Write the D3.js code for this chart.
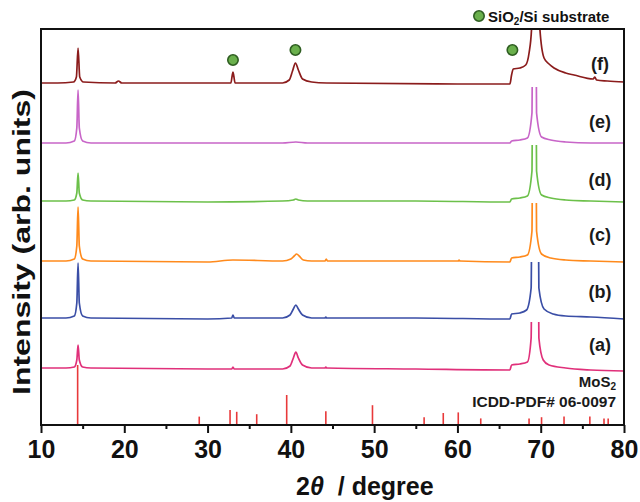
<!DOCTYPE html>
<html><head><meta charset="utf-8">
<script src="https://cdn.jsdelivr.net/npm/d3@7"></script>
<style>
html,body{margin:0;padding:0;background:#fff;}
svg{display:block;font-family:"Liberation Sans",Arial,sans-serif;font-weight:bold;}
</style></head>
<body><svg id="c" width="640" height="502"></svg>
<script>
// ---------------- DATA ----------------
const sampleLabels = ["(a)", "(b)", "(c)", "(d)", "(e)", "(f)"];
const sampleColors = ["#e0307a", "#3a4ea6", "#ff8a1c", "#6cc04a", "#c865c8", "#8b1c1c"];
// vertical offsets of each pattern (arb. units)
const sampleOffsets = [57, 107, 164, 224, 282, 342];
// truncation ceiling of the Si(400) peak for each pattern (arb. units, above offset)
const sampleCeilings = [46, 56, 58, 56, 56, 400];

// [2theta, intensity above offset]
const patternA = [[10,0],[13,0],[14.0,1],[14.3,8],[14.45,23],[14.6,8],[15,1],[16,0],[30,-1],[32.9,-1],[33.05,1],[33.2,-1],[39,-1],[39.9,2],[40.3,10],[40.6,16],[40.9,10],[41.4,3],[42.5,0],[44.1,0],[44.2,1],[44.3,0],[55,-1],[66.3,-2],[66.5,3],[67.5,4],[68.4,6],[68.85,30],[68.98,160],[69.65,160],[69.78,30],[70.3,8],[71,3],[73,0],[76,-2],[80,-3]];
const patternB = [[10,0],[13,0],[14.0,2],[14.3,15],[14.45,55],[14.6,15],[15,2],[16,0],[30,-1],[32.9,0],[33.05,3],[33.2,0],[39,0],[39.9,3],[40.3,9],[40.6,13],[40.9,9],[41.4,3],[42.5,0],[44.1,0],[44.2,1],[44.3,0],[55,0],[66.3,-1],[66.5,4],[67.5,5],[68.3,8],[68.85,30],[68.98,160],[69.65,160],[69.78,30],[70.4,9],[71.5,4],[73,2],[76,1],[80,-1]];
const patternC = [[10,0],[13,0],[14.0,2],[14.3,15],[14.45,54],[14.6,15],[15,2],[16,0],[30,-1],[33.05,1],[39,0],[40.0,2],[40.4,5],[40.7,7],[41.0,5],[41.5,1],[42.5,0],[44.1,0],[44.25,2],[44.4,0],[55,0],[60.1,0],[60.2,1],[60.3,0],[66.3,-1],[66.5,3],[67.5,4],[68.4,6],[68.95,30],[69.05,160],[69.4,160],[69.5,30],[70.1,7],[71.2,3],[73,1],[76,0],[80,-1]];
const patternD = [[10,0],[13,0],[14.0,1],[14.3,8],[14.45,28],[14.6,8],[15,1],[16,0],[30,-1],[39,0],[40.3,1],[40.6,2],[40.9,1],[42,0],[55,0],[66.3,-1],[66.5,2],[67.5,3],[68.4,5],[68.95,30],[69.05,160],[69.4,160],[69.5,30],[70.1,6],[71.2,3],[73,1],[76,0],[80,-1]];
const patternE = [[10,0],[13,0],[14.0,2],[14.3,15],[14.45,53],[14.6,15],[15,2],[16,0],[30,0],[39,0],[40.6,1],[42,0],[55,0],[66.3,0],[66.5,2],[67.5,3],[68.4,5],[68.95,30],[69.05,160],[69.4,160],[69.5,30],[70.1,6],[71.2,3],[73,1],[76,0],[80,0]];
const patternF = [[10,0],[12,0],[13.9,1],[14.25,6],[14.45,35],[14.65,6],[15.1,1],[18.9,0],[19.3,2],[19.7,0],[25,0],[32.8,0],[32.95,7],[33.05,11],[33.15,7],[33.3,0],[39,0],[39.8,3],[40.2,12],[40.55,20],[40.9,13],[41.4,4],[42.5,1],[44.3,0],[60,-1],[66.3,-1],[66.5,8],[66.7,14],[67.5,15],[68.2,18],[68.6,30],[68.9,54],[69.1,200],[69.7,200],[69.9,54],[70.4,25],[71.0,19],[71.6,15],[73,10],[74,8],[76.3,4],[76.5,6],[76.7,3],[78,2],[80,1]];
const patterns = [patternA, patternB, patternC, patternD, patternE, patternF];

// MoS2 reference (ICDD-PDF# 06-0097): positions and relative intensities
const refPositions   = [14.4, 29.0, 32.7, 33.5, 35.9, 39.5, 44.2, 49.8, 56.0, 58.3, 60.1, 62.8, 68.6, 70.1, 72.8, 75.9, 77.6, 78.1];
const refIntensities = [100, 14, 25, 22, 18, 50, 23, 33, 13, 20, 21, 11, 11, 13, 14, 14, 11, 11];

// SiO2/Si substrate markers: [2theta, intensity]
const substrateMarkers = [[33.05, 365], [40.55, 375], [66.6, 375]];

const xTicks = [10, 20, 30, 40, 50, 60, 70, 80];
const xMinorTicks = [15, 25, 35, 45, 55, 65, 75];

// ---------------- LAYOUT ----------------
const L = 41, R = 624, T = 29, B = 425;
const svg = d3.select("#c");
const x = d3.scaleLinear().domain([10, 80]).range([L, R]);
const y = d3.scaleLinear().domain([0, B - T]).range([B, T]);
const yRef = d3.scaleLinear().domain([0, 100]).range([B, B - 60]);

svg.append("defs").append("clipPath").attr("id", "plotclip")
  .append("rect").attr("x", L).attr("y", T).attr("width", R - L).attr("height", B - T);

const plot = svg.append("g").attr("clip-path", "url(#plotclip)");

// reference lines
plot.append("g").selectAll("line").data(refPositions).join("line")
  .attr("x1", d => x(d)).attr("x2", d => x(d))
  .attr("y1", yRef(0)).attr("y2", (d, i) => yRef(refIntensities[i]))
  .attr("stroke", "#e8393a").attr("stroke-width", 1.6);

// patterns
const line = d3.line().x(d => x(d[0])).y(d => y(d[1])).curve(d3.curveMonotoneX);
const defs = svg.select("defs");
patterns.forEach((p, i) => {
  const top = y(sampleOffsets[i] + sampleCeilings[i]);
  defs.append("clipPath").attr("id", "cl" + i).append("rect")
    .attr("x", L).attr("y", Math.max(top, T)).attr("width", R - L).attr("height", B - Math.max(top, T));
  plot.append("path")
    .datum(p.map(d => [d[0], d[1] + sampleOffsets[i]]))
    .attr("clip-path", "url(#cl" + i + ")")
    .attr("d", line).attr("fill", "none")
    .attr("stroke", sampleColors[i]).attr("stroke-width", 1.7)
    .attr("stroke-linejoin", "round");
});

// substrate markers
svg.append("g").selectAll("circle").data(substrateMarkers).join("circle")
  .attr("cx", d => x(d[0])).attr("cy", d => y(d[1])).attr("r", 5.2)
  .attr("fill", "#6ab04c").attr("stroke", "#2f5e22").attr("stroke-width", 1.6);

// sample labels
const labelBaselines = [351, 298, 241, 186, 128, 70];
svg.append("g").selectAll("text").data(sampleLabels).join("text")
  .attr("x", 600).attr("y", (d, i) => labelBaselines[i])
  .attr("text-anchor", "middle").attr("font-size", 18).attr("fill", "#1a1a1a")
  .text(d => d);

// reference text
const refText = svg.append("text").attr("x", 616).attr("y", 387)
  .attr("text-anchor", "end").attr("font-size", 15).attr("fill", "#1a1a1a");
refText.append("tspan").text("MoS");
refText.append("tspan").attr("font-size", 10).attr("dy", 3).text("2");
svg.append("text").attr("x", 616).attr("y", 407).attr("text-anchor", "end")
  .attr("font-size", 15.5).attr("fill", "#1a1a1a").text("ICDD-PDF# 06-0097");

// frame
svg.append("rect").attr("x", L).attr("y", T).attr("width", R - L).attr("height", B - T)
  .attr("fill", "none").attr("stroke", "#111").attr("stroke-width", 2);

// x axis
const ax = svg.append("g").attr("transform", `translate(0,${B})`)
  .call(d3.axisBottom(x).tickValues(xTicks).tickSize(8).tickFormat(d3.format("d")));
ax.select(".domain").remove();
ax.selectAll(".tick line").attr("stroke", "#111").attr("stroke-width", 2);
ax.selectAll(".tick text").attr("y", 33).attr("dy", 0).attr("font-size", 25)
  .attr("font-family", "'Liberation Sans',Arial,sans-serif").attr("font-weight", "bold").attr("fill", "#111");
const axm = svg.append("g").attr("transform", `translate(0,${B})`)
  .call(d3.axisBottom(x).tickValues(xMinorTicks).tickSize(4).tickFormat(""));
axm.select(".domain").remove();
axm.selectAll(".tick line").attr("stroke", "#111").attr("stroke-width", 2);

// axis titles
const xt = svg.append("text").attr("x", 296).attr("y", 495).attr("font-size", 25).attr("fill", "#111");
xt.append("tspan").text("2");
xt.append("tspan").attr("font-style", "italic").text("θ");
xt.append("tspan").attr("xml:space", "preserve").text("\u00a0 / degree");

svg.append("text").attr("transform", "translate(30,242) rotate(-90)")
  .attr("text-anchor", "middle").attr("font-size", 23).attr("fill", "#111")
  .attr("textLength", 306).attr("lengthAdjust", "spacingAndGlyphs")
  .text("Intensity (arb. units)");

// legend
svg.append("circle").attr("cx", 479).attr("cy", 16).attr("r", 5.2)
  .attr("fill", "#6ab04c").attr("stroke", "#2f5e22").attr("stroke-width", 1.6);
const lg = svg.append("text").attr("x", 488).attr("y", 22).attr("font-size", 15).attr("fill", "#111");
lg.append("tspan").text("SiO");
lg.append("tspan").attr("font-size", 10).attr("dy", 3).text("2");
lg.append("tspan").attr("dy", -3).text("/Si substrate");
</script></body></html>
